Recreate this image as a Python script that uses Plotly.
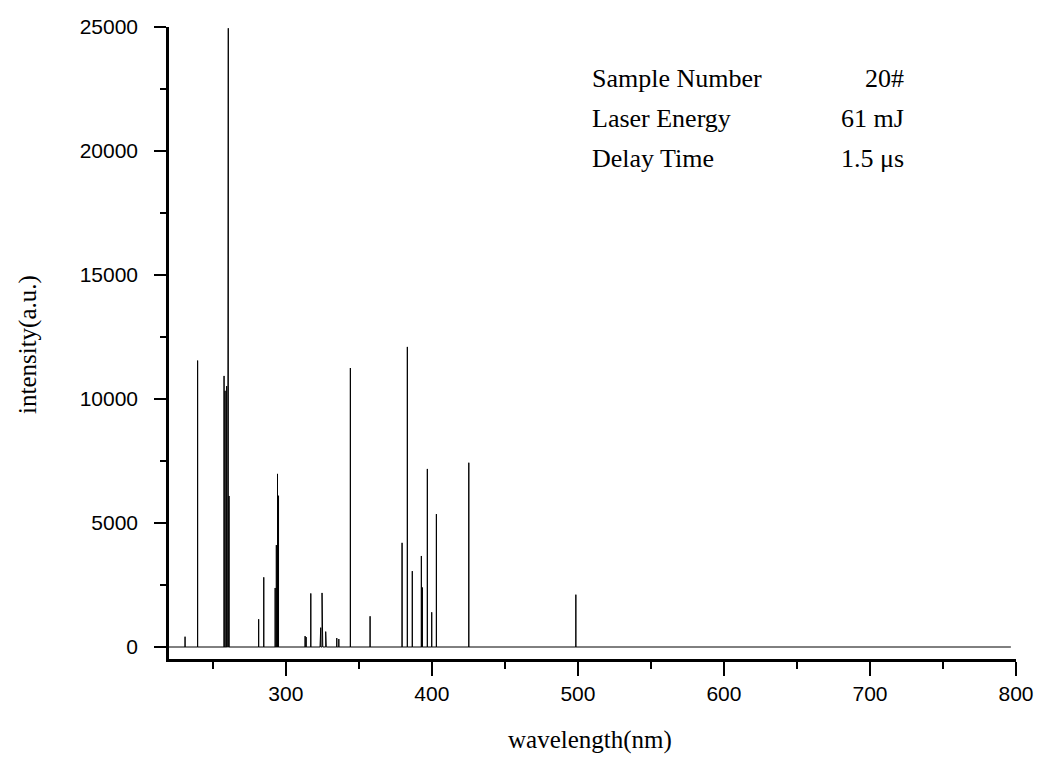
import plotly.graph_objects as go

# Emission lines (wavelength nm, intensity a.u.)
peak_wavelength = [231.0, 239.6, 257.7, 258.4, 259.5, 260.2, 260.6, 261.1, 281.4, 284.9,
                   292.7, 293.5, 294.3, 295.0, 313.2, 313.9, 317.1, 323.4, 323.9, 324.8,
                   325.3, 327.3, 327.7, 334.9, 336.3, 344.2, 357.7, 379.6, 383.2, 386.6,
                   392.8, 393.5, 396.9, 399.9, 403.1, 425.3, 498.6]
peak_intensity = [415, 11550, 10930, 10330, 10520, 8480, 24950, 6090, 1120, 2810,
                  2380, 4110, 6980, 6100, 440, 400, 2160, 620, 780, 2180,
                  400, 620, 580, 360, 320, 11250, 1240, 4200, 12100, 3060,
                  3670, 2400, 7180, 1400, 5360, 7430, 2110]
spectrum_start = 220.0
spectrum_end = 796.5

info_labels = ["Sample Number", "Laser Energy", "Delay Time"]
info_values = ["20#", "61 mJ", "1.5 \u03bcs"]

# Build stick spectrum
xs = [spectrum_start]
ys = [0]
for wl, h in sorted(zip(peak_wavelength, peak_intensity)):
    xs += [wl, wl, wl]
    ys += [0, h, 0]
xs.append(spectrum_end)
ys.append(0)

fig = go.Figure()
fig.add_trace(go.Scatter(x=xs, y=ys, mode="lines",
                         line=dict(color="black", width=1),
                         hoverinfo="skip", showlegend=False))

W, H = 1041, 757
ml, mr, mt, mb = 169, 25, 27, 98
pw = W - ml - mr
ph = H - mt - mb

def px_x(px):
    return (px - ml) / pw

def px_y(py):
    return (H - mb - py) / ph

serif = "Liberation Serif, Times New Roman, serif"
row_y = [78, 118, 158]
for lab, val, ry in zip(info_labels, info_values, row_y):
    fig.add_annotation(text=lab, xref="paper", yref="paper", x=px_x(590), y=px_y(ry),
                       xanchor="left", yanchor="middle", showarrow=False,
                       font=dict(family=serif, size=26, color="black"))
    fig.add_annotation(text=val, xref="paper", yref="paper", x=px_x(906), y=px_y(ry),
                       xanchor="right", yanchor="middle", showarrow=False,
                       font=dict(family=serif, size=26, color="black"))

fig.add_annotation(text="intensity(a.u.)", xref="paper", yref="paper",
                   x=px_x(28), y=px_y(345), textangle=-90,
                   xanchor="center", yanchor="middle", showarrow=False,
                   font=dict(family=serif, size=25, color="black"))
fig.add_annotation(text="wavelength(nm)", xref="paper", yref="paper",
                   x=px_x(590), y=px_y(740),
                   xanchor="center", yanchor="middle", showarrow=False,
                   font=dict(family=serif, size=25, color="black"))

sans = "Liberation Sans, Arial, sans-serif"
fig.update_layout(
    width=W, height=H,
    margin=dict(l=ml, r=mr, t=mt, b=mb, autoexpand=False),
    paper_bgcolor="white", plot_bgcolor="white",
    xaxis=dict(range=[220, 800], tickmode="array", tickvals=[300, 400, 500, 600, 700, 800],
               showline=True, linecolor="black", linewidth=2.5, mirror=False,
               ticks="outside", ticklen=14, tickwidth=2, tickcolor="black",
               minor=dict(tickmode="array", tickvals=[250, 350, 450, 550, 650, 750],
                          ticks="outside", ticklen=7, tickwidth=2, tickcolor="black"),
               showgrid=False, zeroline=False, automargin=False,
               tickfont=dict(family=sans, size=21, color="black")),
    yaxis=dict(range=[-484, 25000], tickmode="array",
               tickvals=[0, 5000, 10000, 15000, 20000, 25000],
               ticktext=["0", "5000", "10000", "15000", "20000", "25000"],
               showline=True, linecolor="black", linewidth=2.5, mirror=False,
               ticks="outside", ticklen=12, tickwidth=2, tickcolor="black",
               minor=dict(tickmode="array", tickvals=[2500, 7500, 12500, 17500, 22500],
                          ticks="outside", ticklen=6, tickwidth=2, tickcolor="black"),
               showgrid=False, zeroline=False, ticklabelstandoff=12, automargin=False,
               tickfont=dict(family=sans, size=21, color="black")),
)

fig.write_html("out.html", config={"displayModeBar": False},
               post_script="document.body.style.margin='0';document.body.style.overflow='hidden';")
